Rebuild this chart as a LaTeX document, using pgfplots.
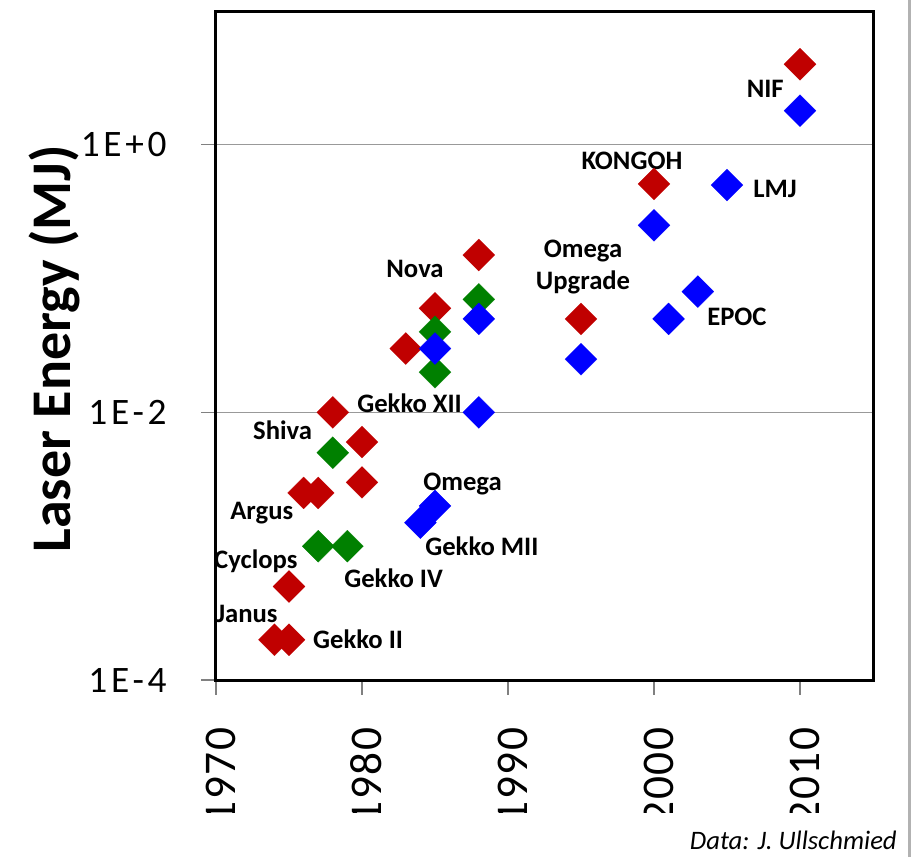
\documentclass[border=0pt]{standalone}
\usepackage{fontspec}
\setmainfont{Carlito}
\newfontfamily\tickfont[LetterSpace=10]{Carlito}
\newfontfamily\xtickfont[LetterSpace=4]{Carlito}
\usepackage{pgfplots}
\usepackage{pgfplotstable}
\pgfplotsset{compat=1.18}
\definecolor{cred}{HTML}{C00000}
\definecolor{cgreen}{HTML}{008000}
\definecolor{cblue}{HTML}{0000FF}
\pgfplotstableread{
year energy
2010 4.0
2000 0.51
1995 0.05
1988 0.15
1985 0.06
1983 0.03
1978 0.01
1980 0.006
1980 0.003
1977 0.0025
1976 0.0025
1975 0.0005
1974 0.0002
1975 0.0002
}\reddata
\pgfplotstableread{
year energy
1988 0.07
1985 0.04
1985 0.02
1978 0.005
1977 0.001
1979 0.001
}\greendata
\pgfplotstableread{
year energy
2010 1.8
2005 0.5
2000 0.25
2003 0.08
2001 0.05
1995 0.025
1988 0.05
1985 0.03
1988 0.01
1985 0.002
1984 0.0015
}\bluedata
\tikzset{lbl/.style={inner sep=0pt, font=\bfseries\fontsize{20}{24}\selectfont}}
\begin{document}
\begin{tikzpicture}
\useasboundingbox (-162pt,-132.75pt) rectangle (522pt,510pt);
\begin{scope}
\clip (-162pt,-99pt) rectangle (522pt,510pt);
\begin{axis}[
 at={(0,0)}, anchor=south west,
 scale only axis, width=492.75pt, height=501.75pt,
 xmin=1970, xmax=2015, ymode=log, ymin=1e-4, ymax=10,
 xtick={1970,1980,1990,2000,2010},
 xticklabels={1970,1980,1990,2000,2010},
 ytick={1e-4,1e-2,1},
 yticklabels={1E-4,1E-2,1E+0},
 yminorticks=false, xminorticks=false,
 ymajorgrids, grid style={gray!80, line width=1pt},
 tick align=outside, xtick pos=bottom, ytick pos=left,
 major tick length=11pt,
 tick style={gray, line width=1pt},
 axis line style={black, line width=2.25pt},
 /pgf/number format/assume math mode=true,
 yticklabel style={font=\tickfont\fontsize{28}{32}\selectfont, xshift=-22.5pt},
 xticklabel style={font=\xtickfont\fontsize{34}{38}\selectfont, rotate=90, anchor=east, xshift=-21pt, yshift=-3.5pt},
 ylabel={Laser Energy (MJ)},
 ylabel style={font=\bfseries\fontsize{42}{48}\selectfont, at={(axis description cs:-0.2466,0.4948)}, anchor=center},
 clip=false,
]
\addplot[only marks, mark=square*, mark size=8.5pt, mark options={rotate=45, fill=cred, draw=cred, line width=0.1pt}] table[x=year, y=energy] {\reddata};
\addplot[only marks, mark=square*, mark size=8.5pt, mark options={rotate=45, fill=cgreen, draw=cgreen, line width=0.1pt}] table[x=year, y=energy] {\greendata};
\addplot[only marks, mark=square*, mark size=8.5pt, mark options={rotate=45, fill=cblue, draw=cblue, line width=0.1pt}] table[x=year, y=energy] {\bluedata};
\node[lbl, anchor=east] at (axis cs:2008.9,2.62) {NIF};
\node[lbl, anchor=center] at (axis cs:1998.49,0.759) {KONGOH};
\node[lbl, anchor=west] at (axis cs:2006.78,0.469) {LMJ};
\node[lbl, anchor=west] at (axis cs:2003.63,0.0518) {EPOC};
\node[lbl, anchor=center, align=center] at (axis cs:1995.14,0.1224) {Omega\\Upgrade};
\node[lbl, anchor=center] at (axis cs:1983.63,0.118) {Nova};
\node[lbl, anchor=west] at (axis cs:1979.66,0.01178) {Gekko XII};
\node[lbl, anchor=west] at (axis cs:1972.53,0.0074) {Shiva};
\node[lbl, anchor=west] at (axis cs:1984.18,0.00292) {Omega};
\node[lbl, anchor=west] at (axis cs:1970.96,0.00177) {Argus};
\node[lbl, anchor=west] at (axis cs:1984.32,0.001005) {Gekko MII};
\node[lbl, anchor=west] at (axis cs:1969.86,0.000775) {Cyclops};
\node[lbl, anchor=west] at (axis cs:1978.77,0.000579) {Gekko IV};
\node[lbl, anchor=west] at (axis cs:1970.0,0.000311) {Janus};
\node[lbl, anchor=west] at (axis cs:1976.64,0.000203) {Gekko II};
\end{axis}
\end{scope}
\draw[gray!60, line width=2.5pt] (520pt,-132.75pt) -- (520pt,510pt);
\node[anchor=base east, inner sep=0pt, font=\itshape\fontsize{20}{24}\selectfont] at (510.75pt,-126.75pt) {Data: J. Ullschmied};
\end{tikzpicture}
\end{document}
